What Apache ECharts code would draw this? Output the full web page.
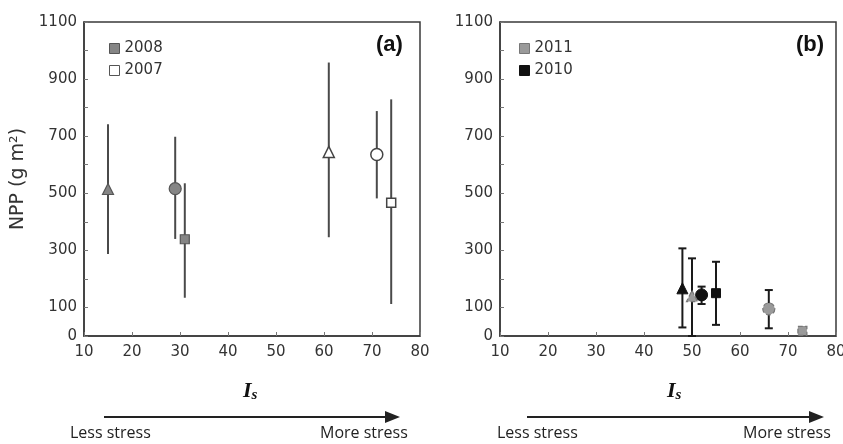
<!DOCTYPE html>
<html>
<head>
<meta charset="utf-8">
<script src="https://cdn.jsdelivr.net/npm/echarts@6/dist/echarts.min.js"></script>
<style>html,body{margin:0;padding:0;background:#fff}#c{width:843px;height:444px}</style>
</head>
<body>
<div id="c"></div>
<script>
// ---- data ----
const yLabelValues = [0, 100, 300, 500, 700, 900, 1100];
const shapes = ['triangle', 'circle', 'rect'];

const a2008_x  = [15, 29, 31];
const a2008_y  = [515, 516, 339];
const a2008_lo = [287, 340, 134];
const a2008_hi = [742, 698, 535];

const a2007_x  = [61, 71, 74];
const a2007_y  = [645, 636, 467];
const a2007_lo = [346, 482, 112];
const a2007_hi = [958, 788, 829];

const b2010_x  = [48, 52, 55];
const b2010_y  = [167, 144, 150];
const b2010_lo = [30, 112, 39];
const b2010_hi = [307, 173, 260];

const b2011_x  = [50, 66, 73];
const b2011_y  = [140, 95, 18];
const b2011_lo = [0, 27, 5];
const b2011_hi = [272, 161, 30];

// ---- styles ----
const FONT = 'DejaVu Sans';
const axisCol = '#3a3a3a';
const sizes = {triangle: 11, circle: 12, rect: 9};

function pts(xs, ys) {
  return xs.map((x, i) => ({value: [x, ys[i]], symbol: shapes[i], symbolSize: sizes[shapes[i]]}));
}
function errs(xs, lo, hi) {
  return xs.map((x, i) => [x, lo[i], hi[i]]);
}
function errSeries(name, idx, data, color, cap) {
  return {
    name: name, type: 'custom', xAxisIndex: idx, yAxisIndex: idx, z: 2,
    renderItem: function (params, api) {
      const p1 = api.coord([api.value(0), api.value(1)]);
      const p2 = api.coord([api.value(0), api.value(2)]);
      const st = {stroke: color, lineWidth: 2};
      const ch = [{type: 'line', shape: {x1: p1[0], y1: p1[1], x2: p2[0], y2: p2[1]}, style: st}];
      if (cap) {
        ch.push({type: 'line', shape: {x1: p1[0] - cap, y1: p1[1], x2: p1[0] + cap, y2: p1[1]}, style: st});
        ch.push({type: 'line', shape: {x1: p2[0] - cap, y1: p2[1], x2: p2[0] + cap, y2: p2[1]}, style: st});
      }
      return {type: 'group', children: ch};
    },
    data: data
  };
}
function xAx(idx) {
  return {
    gridIndex: idx, type: 'value', min: 10, max: 80, interval: 10,
    axisLine: {show: true, lineStyle: {color: axisCol, width: 1.5}},
    axisTick: {show: true, inside: true, length: 4, lineStyle: {color: '#777'}},
    axisLabel: {color: '#333', fontFamily: FONT, fontSize: 15, margin: 9},
    splitLine: {show: false}
  };
}
function yAx(idx) {
  return {
    gridIndex: idx, type: 'value', min: 0, max: 1100, interval: 100,
    name: idx === 0 ? 'NPP (g m²)' : '', nameLocation: 'middle', nameGap: 56, nameRotate: 90,
    nameTextStyle: {color: '#333', fontFamily: FONT, fontSize: 19},
    axisLine: {show: true, lineStyle: {color: axisCol, width: 1.5}},
    axisTick: {show: true, inside: true, length: 4, lineStyle: {color: '#777'}},
    axisLabel: {color: '#333', fontFamily: FONT, fontSize: 15, margin: 7,
      formatter: v => yLabelValues.indexOf(v) >= 0 ? String(v) : ''},
    splitLine: {show: false}
  };
}
function arrow(x1, x2, y) {
  return [
    {type: 'line', shape: {x1: x1, y1: y, x2: x2 - 10, y2: y}, style: {stroke: '#222', lineWidth: 2}},
    {type: 'polygon', shape: {points: [[x2 - 15, y - 6], [x2, y], [x2 - 15, y + 6]]}, style: {fill: '#222'}}
  ];
}
function isLabel(x, y) {
  return {type: 'text', left: x, top: y,
    style: {text: '{i|I}{s|s}', rich: {
      i: {fontFamily: 'Liberation Serif', fontStyle: 'italic', fontWeight: 'bold', fontSize: 22, fill: '#111'},
      s: {fontFamily: 'Liberation Serif', fontStyle: 'italic', fontWeight: 'bold', fontSize: 15, fill: '#111', verticalAlign: 'bottom', padding: [8, 0, 0, 0]}
    }}};
}
function stressText(x, y, t) {
  return {type: 'text', left: x, top: y, style: {text: t, fontFamily: 'Open Sans', fontSize: 16, fill: '#222'}};
}

const legendText = {color: '#333', fontFamily: FONT, fontSize: 15};

const option = {
  animation: false,
  backgroundColor: '#fff',
  grid: [
    {left: 84, top: 22, width: 336, height: 314, show: true, borderColor: axisCol, borderWidth: 1.5, outerBoundsMode: 'none'},
    {left: 500, top: 22, width: 336, height: 314, show: true, borderColor: axisCol, borderWidth: 1.5, outerBoundsMode: 'none'}
  ],
  xAxis: [xAx(0), xAx(1)],
  yAxis: [yAx(0), yAx(1)],
  legend: [
    {left: 104, top: 36, orient: 'vertical', itemWidth: 10, itemHeight: 10, itemGap: 7, textStyle: legendText,
     selectedMode: false,
     data: [{name: '2008', icon: 'rect', itemStyle: {color: '#858585', borderColor: '#555', borderWidth: 1}},
            {name: '2007', icon: 'rect', itemStyle: {color: '#fff', borderColor: '#555', borderWidth: 1}}]},
    {left: 514, top: 36, orient: 'vertical', itemWidth: 10, itemHeight: 10, itemGap: 7, textStyle: legendText,
     selectedMode: false,
     data: [{name: '2011', icon: 'rect', itemStyle: {color: '#9a9a9a', borderColor: '#777', borderWidth: 1}},
            {name: '2010', icon: 'rect', itemStyle: {color: '#111', borderColor: '#111', borderWidth: 1}}]}
  ],
  series: [
    errSeries('e2008', 0, errs(a2008_x, a2008_lo, a2008_hi), '#4a4a4a', 0),
    errSeries('e2007', 0, errs(a2007_x, a2007_lo, a2007_hi), '#4a4a4a', 0),
    errSeries('e2010', 1, errs(b2010_x, b2010_lo, b2010_hi), '#1a1a1a', 4),
    errSeries('e2011', 1, errs(b2011_x, b2011_lo, b2011_hi), '#1a1a1a', 4),
    {name: '2008', type: 'scatter', xAxisIndex: 0, yAxisIndex: 0, z: 3, data: pts(a2008_x, a2008_y),
     itemStyle: {color: '#858585', borderColor: '#555', borderWidth: 1.2, opacity: 1}},
    {name: '2007', type: 'scatter', xAxisIndex: 0, yAxisIndex: 0, z: 3, data: pts(a2007_x, a2007_y),
     itemStyle: {color: '#fff', borderColor: '#444', borderWidth: 1.5, opacity: 1}},
    {name: '2010', type: 'scatter', xAxisIndex: 1, yAxisIndex: 1, z: 3, data: pts(b2010_x, b2010_y),
     itemStyle: {color: '#111', borderColor: '#111', borderWidth: 1, opacity: 1}},
    {name: '2011', type: 'scatter', xAxisIndex: 1, yAxisIndex: 1, z: 3, data: pts(b2011_x, b2011_y),
     itemStyle: {color: '#9a9a9a', borderColor: '#777', borderWidth: 1.2, borderType: 'dashed', opacity: 1}}
  ],
  graphic: [
    {type: 'text', left: 376, top: 34, style: {text: '(a)', fontFamily: 'Liberation Sans', fontWeight: 'bold', fontSize: 22, fill: '#111'}},
    {type: 'text', left: 796, top: 34, style: {text: '(b)', fontFamily: 'Liberation Sans', fontWeight: 'bold', fontSize: 22, fill: '#111'}},
    isLabel(243, 380),
    isLabel(667, 380),
    ...arrow(104, 400, 417),
    ...arrow(527, 824, 417),
    stressText(70, 425, 'Less stress'),
    stressText(320, 425, 'More stress'),
    stressText(497, 425, 'Less stress'),
    stressText(743, 425, 'More stress')
  ]
};
const chart = echarts.init(document.getElementById('c'), null, {renderer: 'canvas'});
chart.setOption(option);
</script>
</body>
</html>
